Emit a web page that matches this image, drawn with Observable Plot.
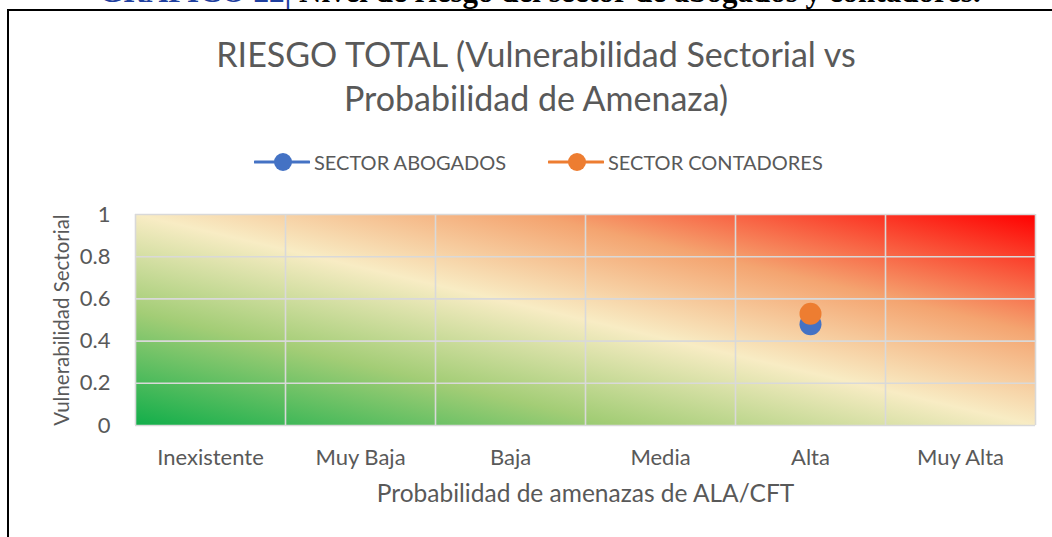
<!DOCTYPE html>
<html>
<head>
<meta charset="utf-8">
<script src="https://cdn.jsdelivr.net/npm/d3@7"></script>
<script src="https://cdn.jsdelivr.net/npm/@observablehq/plot@0.6"></script>
<style>
  html, body { margin: 0; padding: 0; background: #fff; }
  body { width: 1052px; height: 537px; overflow: hidden; position: relative; font-family: Lato, "Open Sans", sans-serif; }
  #header { position: absolute; left: 0; width: 1080px; top: -24px; text-align: center; font: bold 31px "Liberation Serif", serif; white-space: nowrap; color: #000; line-height: 32px; }
  #header .blue { color: #1f3f9f; }
  #box { position: absolute; left: 7px; top: 9px; width: 1100px; height: 600px; border: 2px solid #000; }
  #title { position: absolute; left: 0; width: 1072px; top: 32px; text-align: center; color: #595959; font-size: 34px; line-height: 44px; }
  .leg { position: absolute; top: 150px; height: 24px; display: flex; align-items: center; color: #595959; font-size: 20px; white-space: nowrap; }
  .leg svg { margin-right: 4px; }
  #chart { position: absolute; left: 0; top: 190px; }
</style>
</head>
<body>
<div id="header"><span class="blue">GRÁFICO 22|</span> Nivel de riesgo del sector de abogados y contadores.</div>
<div id="box"></div>
<div id="title">RIESGO TOTAL (Vulnerabilidad Sectorial vs<br>Probabilidad de Amenaza)</div>
<div id="legend"></div>
<div id="chart"></div>
<script>
const categories = ["Inexistente", "Muy Baja", "Baja", "Media", "Alta", "Muy Alta"];
const seriesNames = ["SECTOR ABOGADOS", "SECTOR CONTADORES"];
const seriesCategory = ["Alta", "Alta"];
const seriesValues = [0.48, 0.53];
const seriesColors = ["#4472c4", "#ed7d31"];
const yTicks = [0, 0.2, 0.4, 0.6, 0.8, 1];
const xTitle = "Probabilidad de amenazas de ALA/CFT";
const yTitle = "Vulnerabilidad Sectorial";

const data = seriesNames.map((name, i) => ({
  name,
  x: categories.indexOf(seriesCategory[i]) + 0.5,
  y: seriesValues[i]
}));

// legend
const legendLeft = [254, 548];
const legend = document.getElementById("legend");
seriesNames.forEach((n, i) => {
  const d = document.createElement("div");
  d.className = "leg";
  d.style.left = legendLeft[i] + "px";
  d.innerHTML = `<svg width="56" height="22"><line x1="1" x2="55" y1="11" y2="11" stroke="${seriesColors[i]}" stroke-width="3" stroke-linecap="round"/><circle cx="29" cy="11" r="9" fill="${seriesColors[i]}"/></svg><span>${n}</span>`;
  legend.appendChild(d);
});

const chart = Plot.plot({
  width: 1052,
  height: 340,
  marginLeft: 135,
  marginRight: 17,
  marginTop: 24,
  marginBottom: 105,
  style: { fontFamily: "Lato, 'Open Sans', sans-serif", color: "#595959", background: "transparent", overflow: "visible" },
  x: { domain: [0, categories.length] },
  y: { domain: [0, 1] },
  color: { domain: seriesNames, range: seriesColors },
  marks: [
    Plot.frame({ fill: "url(#riskGrad)", stroke: "none" }),
    Plot.ruleX(d3.range(categories.length + 1), { stroke: "#d9d9d9", strokeWidth: 1.6 }),
    Plot.ruleY(yTicks, { stroke: "#d9d9d9", strokeWidth: 1.6 }),
    Plot.axisX(categories.map((c, i) => i + 0.5), {
      tickSize: 0, tickPadding: 24, fontSize: 22, label: null,
      tickFormat: d => categories[Math.floor(d)]
    }),
    Plot.axisY(yTicks, {
      tickSize: 0, tickPadding: 25, fontSize: 22, label: null,
      tickFormat: d => String(+d.toFixed(1))
    }),
    Plot.dot(data, { x: "x", y: "y", r: 11, fill: "name", stroke: "none" }),
    Plot.text([yTitle], { text: d => d, frameAnchor: "left", textAnchor: "middle", dx: -73, rotate: -90, fontSize: 20.5 }),
    Plot.text([xTitle], { text: d => d, frameAnchor: "bottom", dy: 76, fontSize: 24.5 })
  ]
});

const defs = d3.select(chart).insert("defs", ":first-child");
const grad = defs.append("linearGradient").attr("id", "riskGrad")
  .attr("x1", 0).attr("y1", 1).attr("x2", 1).attr("y2", 0);
[[0, "#11ae4a"], [0.27, "#a3cd76"], [0.5, "#f8ecc4"], [0.72, "#f4a470"], [1, "#ff0000"]]
  .forEach(([o, c]) => grad.append("stop").attr("offset", o).attr("stop-color", c));

document.getElementById("chart").appendChild(chart);
</script>
</body>
</html>
